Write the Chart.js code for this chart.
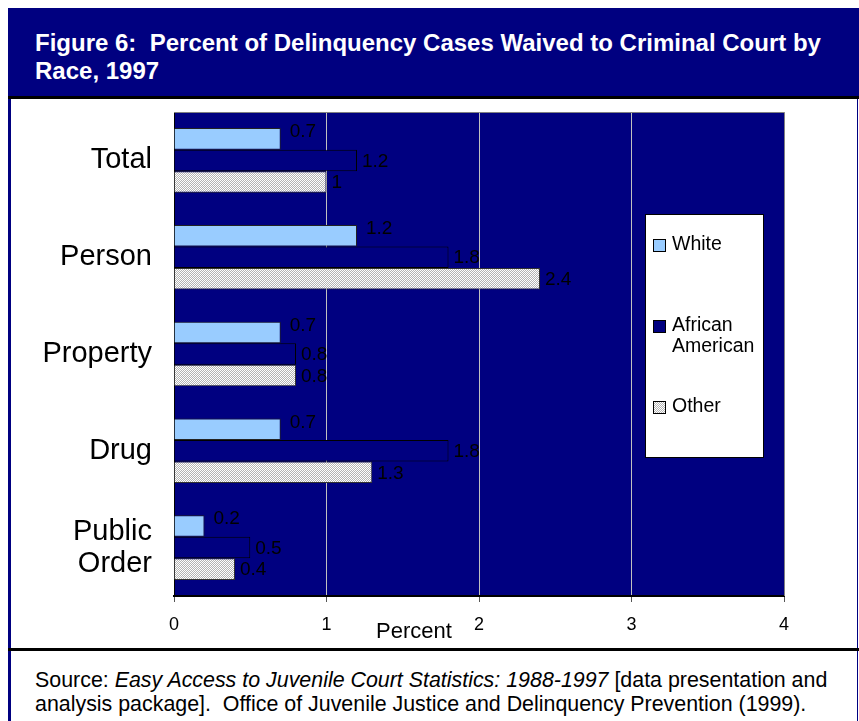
<!DOCTYPE html>
<html>
<head>
<meta charset="utf-8">
<script src="https://cdn.jsdelivr.net/npm/chart.js@4"></script>
<style>
  body { margin: 0; background: #fff; font-family: 'Liberation Sans', Arial, sans-serif; }
  #page { position: relative; width: 859px; height: 721px; overflow: hidden; }
  #title {
    position: absolute; left: 8px; top: 8px; width: 851px; height: 88px;
    background: #000080; color: #fff; font-weight: bold; font-size: 24px;
    line-height: 28px; box-sizing: border-box; padding: 21px 0 0 27px; white-space: nowrap;
  }
  #rule1 { position: absolute; left: 8px; top: 96px; width: 851px; height: 3px; background: #000; }
  #chartBox {
    position: absolute; left: 8px; top: 99px; width: 850px; height: 549px;
    border-left: 3px solid #000080; border-right: 1px solid #000080; box-sizing: border-box;
  }
  #chartBox canvas { position: absolute; left: 0; top: 0; }
  #rule2 { position: absolute; left: 8px; top: 648px; width: 851px; height: 3px; background: #000; }
  #source {
    position: absolute; left: 8px; top: 651px; width: 850px; height: 70px;
    border-left: 3px solid #000080; border-right: 1px solid #000080; box-sizing: border-box;
    font-size: 21.4px; line-height: 24px; padding: 17px 0 0 24px; color: #000; white-space: nowrap;
  }
</style>
</head>
<body>
<div id="page">
  <div id="title">Figure 6:&nbsp; Percent of Delinquency Cases Waived to Criminal Court by<br>Race, 1997</div>
  <div id="rule1"></div>
  <div id="chartBox"><canvas id="waiverChart" width="846" height="549"></canvas></div>
  <div id="rule2"></div>
  <div id="source">Source: <i>Easy Access to Juvenile Court Statistics: 1988-1997</i> [data presentation and<br>analysis package].&nbsp; Office of Juvenile Justice and Delinquency Prevention (1999).</div>
</div>
<script>
// Offense categories and percent waived by race
const categories = ['Total', 'Person', 'Property', 'Drug', ['Public', 'Order']];
const whiteValues = [0.7, 1.2, 0.7, 0.7, 0.2];
const africanAmericanValues = [1.2, 1.8, 0.8, 1.8, 0.5];
const otherValues = [1, 2.4, 0.8, 1.3, 0.4];
const seriesNames = ['White', 'African American', 'Other'];
const xTicks = [0, 1, 2, 3, 4];

const FONT = "'Liberation Sans', Arial, sans-serif";
const NAVY = '#000080';

// Fine dotted grey fill for the "Other" bars
function makeDots() {
    const c = document.createElement('canvas');
    c.width = 2; c.height = 2;
    const g = c.getContext('2d');
    g.fillStyle = '#ffffff';
    g.fillRect(0, 0, 2, 2);
    g.fillStyle = '#b4b4b4';
    g.fillRect(1, 0, 1, 1);
    g.fillRect(0, 1, 1, 1);
    return g.createPattern(c, 'repeat');
}
const dots = makeDots();

const plotBackground = {
    id: 'plotBackground',
    beforeDraw(chart) {
        const a = chart.chartArea, ctx = chart.ctx;
        ctx.save();
        ctx.fillStyle = NAVY;
        ctx.fillRect(a.left, a.top, a.right - a.left, a.bottom - a.top);
        ctx.restore();
    },
    beforeDatasetsDraw(chart) {
        const a = chart.chartArea, ctx = chart.ctx;
        ctx.save();
        ctx.strokeStyle = '#808080';
        ctx.lineWidth = 1;
        ctx.beginPath();
        ctx.moveTo(a.left, a.top + 0.5);
        ctx.lineTo(a.right + 0.5, a.top + 0.5);
        ctx.lineTo(a.right + 0.5, a.bottom);
        ctx.stroke();
        ctx.restore();
    }
};

const valueLabels = {
    id: 'valueLabels',
    afterDatasetsDraw(chart) {
        const ctx = chart.ctx;
        ctx.save();
        ctx.font = '19px ' + FONT;
        ctx.fillStyle = '#000';
        ctx.textAlign = 'left';
        ctx.textBaseline = 'middle';
        chart.data.datasets.forEach(function(ds, i) {
            chart.getDatasetMeta(i).data.forEach(function(bar, j) {
                const dx = i === 0 ? 9 : 5;
                const dy = i === 0 ? -7 : 1;
                ctx.fillText(String(ds.data[j]), bar.x + dx, bar.y + dy);
            });
        });
        ctx.restore();
    }
};

const boxLegend = {
    id: 'boxLegend',
    afterDraw(chart) {
        const ctx = chart.ctx;
        const bx = 634, by = 115, bw = 118, bh = 243;
        ctx.save();
        ctx.fillStyle = '#fff';
        ctx.fillRect(bx, by, bw, bh);
        ctx.strokeStyle = '#000';
        ctx.lineWidth = 1;
        ctx.strokeRect(bx + 0.5, by + 0.5, bw, bh);
        ctx.font = '19.5px ' + FONT;
        ctx.textBaseline = 'middle';
        ctx.textAlign = 'left';
        const rows = [146, 227, 308];
        chart.data.datasets.forEach(function(ds, i) {
            const y = rows[i];
            ctx.fillStyle = ds.backgroundColor;
            ctx.fillRect(642, y - 6, 13, 13);
            ctx.strokeStyle = '#000';
            ctx.strokeRect(642.5, y - 5.5, 12, 12);
            ctx.fillStyle = '#000';
            const lines = i === 1 ? ['African', 'American'] : [ds.label];
            lines.forEach(function(t, k) {
                ctx.fillText(t, 661, y + k * 21);
            });
        });
        // axis title
        ctx.font = '22px ' + FONT;
        ctx.textAlign = 'center';
        ctx.fillText('Percent', 403, 533);
        ctx.restore();
    }
};

new Chart(document.getElementById('waiverChart'), {
    type: 'bar',
    data: {
        labels: categories,
        datasets: [
            {
                label: seriesNames[0],
                data: whiteValues,
                backgroundColor: '#99ccff',
                borderColor: '#222',
                borderWidth: 1
            },
            {
                label: seriesNames[1],
                data: africanAmericanValues,
                backgroundColor: NAVY,
                borderColor: '#000',
                borderWidth: 1
            },
            {
                label: seriesNames[2],
                data: otherValues,
                backgroundColor: dots,
                borderColor: '#333',
                borderWidth: 1
            }
        ]
    },
    options: {
        indexAxis: 'y',
        responsive: false,
        animation: false,
        devicePixelRatio: 1,
        categoryPercentage: 0.667,
        barPercentage: 1,
        layout: { padding: { top: 13, right: 73, left: 0, bottom: 0 } },
        plugins: {
            legend: { display: false },
            tooltip: { enabled: false }
        },
        scales: {
            x: {
                min: 0,
                max: 4,
                afterBuildTicks: function(scale) {
                    scale.ticks = xTicks.map(function(v) { return { value: v }; });
                },
                afterFit: function(scale) {
                    scale.height = 52;
                    scale.paddingLeft = 0;
                    scale.paddingRight = 0;
                },
                ticks: {
                    color: '#000',
                    font: { family: FONT, size: 18 },
                    padding: 12
                },
                grid: {
                    color: '#c0c0c0',
                    tickColor: '#555',
                    tickLength: 6
                },
                border: { color: '#000', width: 2 }
            },
            y: {
                afterFit: function(scale) {
                    scale.width = 163;
                    scale.paddingTop = 0;
                    scale.paddingBottom = 0;
                },
                ticks: {
                    color: '#000',
                    font: { family: FONT, size: 29, lineHeight: 1.1 },
                    padding: 22
                },
                grid: { display: false, drawTicks: false },
                border: { display: true, color: '#000', width: 1 }
            }
        }
    },
    plugins: [plotBackground, valueLabels, boxLegend]
});
</script>
</body>
</html>
